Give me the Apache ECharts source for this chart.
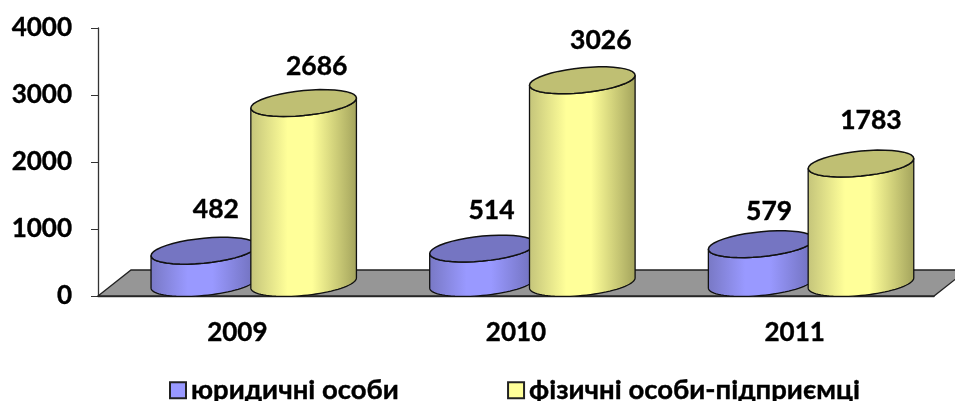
<!DOCTYPE html>
<html>
<head>
<meta charset="utf-8">
<script src="https://cdn.jsdelivr.net/npm/echarts@6/dist/echarts.min.js"></script>
<style>
  html, body { margin: 0; padding: 0; background: #fff; }
  #chart { width: 955px; height: 401px; }
</style>
</head>
<body>
<div id="chart"></div>
<script>
var years = ['2009', '2010', '2011'];
var legalNames = 'юридичні особи';
var personNames = 'фізичні особи-підприємці';
var legal = [482, 514, 579];
var persons = [2686, 3026, 1783];
var yTicks = ['0', '1000', '2000', '3000', '4000'];

var FONT = 'Lato, "Open Sans", sans-serif';
// cylinder look
var RX = 52.8, RY = 12.5, TILT = 5, DEPTH = 13;

// point on a tilted ellipse, sides stay vertical
function ring(cx, cy, from, to) {
  var pts = [];
  for (var i = 0; i <= 40; i++) {
    var t = from + (to - from) * i / 40;
    pts.push([cx + RX * Math.cos(t), cy + RY * Math.sin(t) - TILT * Math.cos(t)]);
  }
  return pts;
}

function cylinder(colors, shift, labelShift) {
  return function (params, api) {
    var idx = api.value(0);
    var val = api.value(1);
    var top = api.coord([idx, val]);
    var base = api.coord([idx, 0]);
    var cx = top[0] + shift;
    var topY = top[1] - DEPTH;
    var baseY = base[1] - DEPTH;
    var side = ring(cx, baseY, 0, Math.PI).concat(ring(cx, topY, Math.PI, 0));
    var cap = ring(cx, topY, 0, Math.PI * 2);
    return {
      type: 'group',
      children: [
        {
          type: 'polygon',
          shape: { points: side },
          style: {
            fill: new echarts.graphic.LinearGradient(0, 0, 1, 0, [
              { offset: 0, color: colors[0] },
              { offset: 0.35, color: colors[1] },
              { offset: 0.58, color: colors[1] },
              { offset: 1, color: colors[2] }
            ]),
            stroke: '#111',
            lineWidth: 1.3
          }
        },
        {
          type: 'polygon',
          shape: { points: cap },
          style: { fill: colors[3], stroke: '#111', lineWidth: 1.5 }
        },
        {
          type: 'text',
          style: {
            text: String(val),
            x: cx + labelShift[idx][0],
            y: topY + labelShift[idx][1],
            align: 'center',
            verticalAlign: 'middle',
            fill: '#000',
            stroke: '#000',
            lineWidth: 0.4,
            font: 'bold 26.5px ' + FONT
          }
        }
      ]
    };
  };
}

function floor(params, api) {
  var g = params.coordSys;
  var b = g.y + g.height;
  return {
    type: 'polygon',
    shape: {
      points: [[g.x, b], [g.x + 33, b - 26], [g.x + g.width + 33, b - 26], [g.x + g.width, b]]
    },
    style: { fill: '#969696', stroke: '#222', lineWidth: 1.3 }
  };
}

var chart = echarts.init(document.getElementById('chart'));
chart.setOption({
  animation: false,
  backgroundColor: '#fff',
  grid: { left: 98, right: 21, top: 28, bottom: 105 },
  legend: {
    left: 169,
    top: 376,
    padding: 0,
    itemWidth: 16,
    itemHeight: 16,
    itemGap: 108,
    selectedMode: false,
    textStyle: {
      fontFamily: FONT, fontWeight: 'bold', fontSize: 27.5, color: '#000',
      textBorderColor: '#000', textBorderWidth: 0.4
    },
    data: [
      { name: legalNames, icon: 'rect', itemStyle: { color: '#9999ff', borderColor: '#222', borderWidth: 2 } },
      { name: personNames, icon: 'rect', itemStyle: { color: '#ffff99', borderColor: '#222', borderWidth: 2 } }
    ]
  },
  xAxis: {
    type: 'category',
    data: years,
    axisLine: { lineStyle: { color: '#333', width: 1.3 } },
    axisTick: { length: 9, lineStyle: { color: '#333' } },
    axisLabel: {
      margin: 24, fontFamily: FONT, fontWeight: 'bold', fontSize: 26, color: '#000',
      textBorderColor: '#000', textBorderWidth: 0.4
    }
  },
  yAxis: {
    type: 'value',
    min: 0,
    max: 4000,
    interval: 1000,
    splitLine: { show: false },
    axisLine: { show: true, lineStyle: { color: '#333', width: 1.3 } },
    axisTick: { show: true, length: 7, lineStyle: { color: '#333' } },
    axisLabel: {
      margin: 26,
      fontFamily: FONT,
      fontWeight: 'bold',
      fontSize: 26,
      color: '#000',
      textBorderColor: '#000',
      textBorderWidth: 0.4,
      formatter: function (v) { return yTicks[v / 1000]; }
    }
  },
  series: [
    { type: 'custom', name: 'floor', renderItem: floor, data: [[0, 0]], silent: true },
    {
      type: 'custom',
      name: legalNames,
      renderItem: cylinder(['#7878c4', '#9999ff', '#6f6fba', '#7575c2'], -33.5, [[12, -41], [9, -38], [8, -33]]),
      data: legal.map(function (v, i) { return [i, v]; })
    },
    {
      type: 'custom',
      name: personNames,
      renderItem: cylinder(['#c4c47a', '#ffff99', '#a3a35c', '#bfbf73'], 66.3, [[13, -37], [18.5, -40], [10, -43]]),
      data: persons.map(function (v, i) { return [i, v]; })
    }
  ]
});
</script>
</body>
</html>
